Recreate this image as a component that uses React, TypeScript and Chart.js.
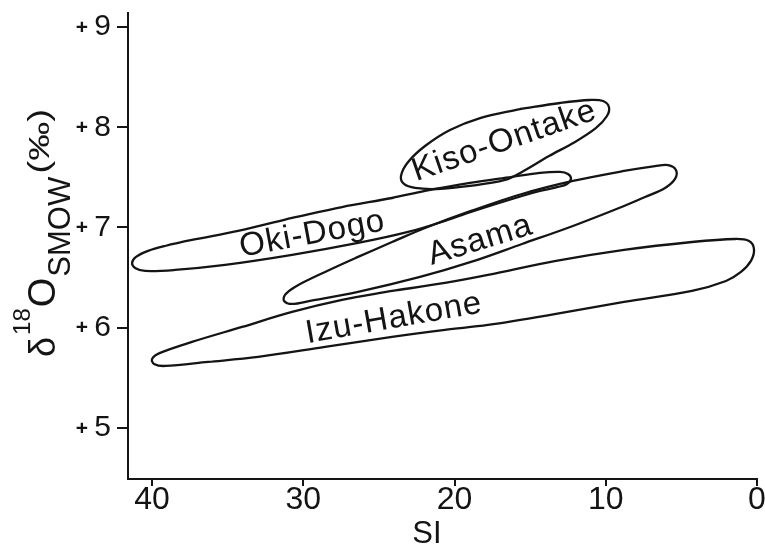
import React, { useEffect, useRef } from 'react';
import { Chart, registerables } from 'chart.js';

Chart.register(...registerables);

// ---- Data ----
const xTicks = [40, 30, 20, 10, 0];
const yTicks = [5, 6, 7, 8, 9];

const okiDogoSI = [30.74, 27.44, 24.13, 21.95, 18.98, 16.2, 14.35, 13.02, 12.5, 12.3, 12.56, 13.16, 14.35, 15.54, 18.91, 20.63, 23.07, 26.38, 30.74, 35.17, 38.48, 40.46, 41.12, 41.32, 41.06, 40.26, 39.14, 37.36, 34.31];
const okiDogoD18O = [7.095, 7.204, 7.294, 7.364, 7.444, 7.504, 7.544, 7.554, 7.534, 7.484, 7.434, 7.404, 7.364, 7.314, 7.155, 7.065, 6.955, 6.845, 6.726, 6.626, 6.576, 6.566, 6.596, 6.646, 6.706, 6.766, 6.815, 6.875, 6.965];

const kisoOntakeSI = [15.67, 13.02, 11.04, 10.18, 9.79, 9.92, 10.64, 12.03, 13.75, 15.54, 16.66, 18.98, 21.16, 22.61, 23.34, 23.54, 23.07, 21.95, 20.3, 18.31];
const kisoOntakeD18O = [8.182, 8.242, 8.272, 8.262, 8.202, 8.112, 7.993, 7.853, 7.713, 7.554, 7.474, 7.414, 7.384, 7.394, 7.434, 7.514, 7.653, 7.813, 7.973, 8.092];

const asamaSI = [24.13, 21.95, 18.91, 15.54, 12.17, 8.79, 6.74, 5.88, 5.36, 5.42, 6.08, 7.4, 8.79, 12.17, 15.54, 18.91, 22.28, 26.38, 29.55, 30.74, 31.27, 31.21, 30.55, 28.56, 26.38];
const asamaD18O = [6.855, 6.995, 7.165, 7.334, 7.464, 7.564, 7.613, 7.623, 7.574, 7.484, 7.394, 7.304, 7.214, 7.015, 6.835, 6.656, 6.506, 6.357, 6.267, 6.237, 6.267, 6.327, 6.407, 6.556, 6.706];

const izuHakoneSI = [24.13, 20.63, 17.79, 13.29, 8.79, 4.3, 1.45, 0.53, 0.2, 0.4, 1.06, 2.05, 4.3, 8.79, 13.29, 17.79, 20.63, 24.13, 28.56, 32.99, 36.3, 39.14, 39.87, 40.0, 39.47, 37.36, 34.05, 30.74, 27.44];
const izuHakoneD18O = [6.367, 6.446, 6.526, 6.666, 6.776, 6.855, 6.885, 6.865, 6.785, 6.666, 6.556, 6.466, 6.367, 6.257, 6.137, 6.027, 5.978, 5.908, 5.808, 5.708, 5.658, 5.618, 5.638, 5.688, 5.748, 5.858, 6.007, 6.157, 6.277];

const loopNames = ['Oki-Dogo', 'Kiso-Ontake', 'Asama', 'Izu-Hakone'];
const labelSI = [29.4, 16.7, 18.3, 24.0];
const labelD18O = [6.93, 7.86, 6.87, 6.09];
const labelAngle = [-10.5, -19, -17, -10];

const X_MIN = 0;
const X_MAX = 41.59;
const Y_MIN = 4.49;
const Y_MAX = 9.14;

const INK = '#141414';
const FONT = '"Liberation Sans", "DejaVu Sans", sans-serif';

function closedLoop(xs: number[], ys: number[]) {
  const pts = xs.map((x, i) => ({ x, y: ys[i] }));
  pts.push({ ...pts[0] });
  return pts;
}

const textPlugin = {
  id: 'figureText',
  afterDatasetsDraw(chart: any) {
    const { ctx, scales } = chart;
    const xs = scales.x;
    const ys = scales.y;
    ctx.save();
    ctx.fillStyle = INK;

    // loop labels
    ctx.font = `33px ${FONT}`;
    ctx.textAlign = 'center';
    ctx.textBaseline = 'middle';
    (ctx as any).letterSpacing = '1px';
    loopNames.forEach((name, i) => {
      ctx.save();
      ctx.translate(xs.getPixelForValue(labelSI[i]), ys.getPixelForValue(labelD18O[i]));
      ctx.rotate((labelAngle[i] * Math.PI) / 180);
      ctx.fillText(name, 0, 0);
      ctx.restore();
    });
    (ctx as any).letterSpacing = '0px';

    // small plus signs before y tick labels
    ctx.font = `bold 21px ${FONT}`;
    yTicks.forEach((v) => {
      ctx.fillText('+', 82, ys.getPixelForValue(v) + 1);
    });

    // x axis title
    ctx.font = `31px ${FONT}`;
    ctx.fillText('SI', 427, 534);

    // y axis title (rotated)
    ctx.save();
    ctx.translate(55, 357);
    ctx.rotate(-Math.PI / 2);
    ctx.textAlign = 'left';
    ctx.textBaseline = 'alphabetic';
    const pieces = [
      { t: 'δ', size: 36, dy: 0, gap: 2, sx: 1 },
      { t: '18', size: 24, dy: -25, gap: 1, sx: 1 },
      { t: 'O', size: 38, dy: 0, gap: 1, sx: 1 },
      { t: 'SMOW', size: 31, dy: 15, gap: 3, sx: 1 },
      { t: '(‰)', size: 30, dy: -6, gap: 0, sx: 1.3 },
    ];
    let pos = 0;
    pieces.forEach((p) => {
      ctx.font = `${p.size}px ${FONT}`;
      ctx.save();
      ctx.translate(pos, p.dy);
      ctx.scale(p.sx, 1);
      ctx.fillText(p.t, 0, 0);
      ctx.restore();
      pos += ctx.measureText(p.t).width * p.sx + p.gap;
    });
    ctx.restore();

    ctx.restore();
  },
};

export default function App() {
  const canvasRef = useRef<HTMLCanvasElement | null>(null);

  useEffect(() => {
    const canvas = canvasRef.current;
    if (!canvas) return;
    const lineStyle = {
      showLine: true,
      borderColor: INK,
      borderWidth: 2.3,
      pointRadius: 0,
      pointHoverRadius: 0,
      tension: 0.35,
      fill: false,
    };
    const chart = new Chart(canvas, {
      type: 'scatter',
      data: {
        datasets: [
          { label: 'Oki-Dogo', data: closedLoop(okiDogoSI, okiDogoD18O), ...lineStyle },
          { label: 'Kiso-Ontake', data: closedLoop(kisoOntakeSI, kisoOntakeD18O), ...lineStyle },
          { label: 'Asama', data: closedLoop(asamaSI, asamaD18O), ...lineStyle },
          { label: 'Izu-Hakone', data: closedLoop(izuHakoneSI, izuHakoneD18O), ...lineStyle },
        ],
      },
      options: {
        responsive: false,
        animation: false,
        events: [],
        layout: { padding: { left: 0, right: 8, top: 13, bottom: 0 } },
        plugins: {
          legend: { display: false },
          tooltip: { enabled: false },
          title: { display: false },
        },
        scales: {
          x: {
            type: 'linear',
            reverse: true,
            min: X_MIN,
            max: X_MAX,
            afterBuildTicks: (scale: any) => {
              scale.ticks = xTicks.map((v) => ({ value: v }));
            },
            afterFit: (scale: any) => {
              scale.height = 81;
              scale.paddingLeft = 0;
              scale.paddingRight = 0;
            },
            border: { display: true, color: INK, width: 2 },
            grid: { display: true, drawOnChartArea: false, drawTicks: true, tickLength: 7, color: INK, lineWidth: 2 },
            ticks: {
              color: INK,
              font: { family: FONT, size: 32 },
              padding: -5,
              maxRotation: 0,
              callback: (v: any) => String(v),
            },
          },
          y: {
            type: 'linear',
            min: Y_MIN,
            max: Y_MAX,
            afterBuildTicks: (scale: any) => {
              scale.ticks = yTicks.map((v) => ({ value: v }));
            },
            afterFit: (scale: any) => {
              scale.width = 128;
              scale.paddingTop = 0;
              scale.paddingBottom = 0;
            },
            border: { display: true, color: INK, width: 2 },
            grid: { display: true, drawOnChartArea: false, drawTicks: true, tickLength: 11, color: INK, lineWidth: 2 },
            ticks: {
              color: INK,
              font: { family: FONT, size: 30 },
              padding: 6,
              callback: (v: any) => String(v),
            },
          },
        },
      },
      plugins: [textPlugin],
    });
    return () => chart.destroy();
  }, []);

  return (
    <div style={{ position: 'fixed', left: 0, top: 0, width: 765, height: 560, background: '#fff' }}>
      <canvas ref={canvasRef} width={765} height={560} style={{ display: 'block', width: 765, height: 560 }} />
    </div>
  );
}
